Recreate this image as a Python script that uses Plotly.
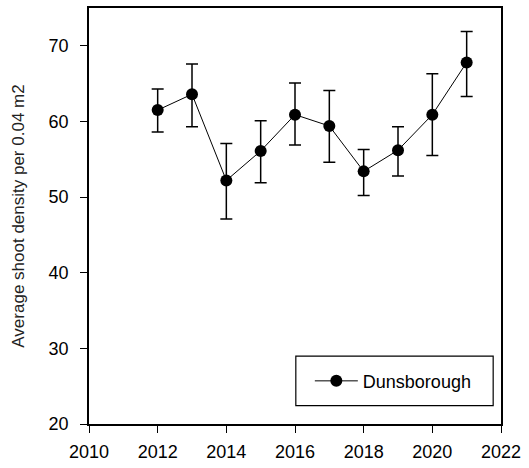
import plotly.graph_objects as go

years = [2012, 2013, 2014, 2015, 2016, 2017, 2018, 2019, 2020, 2021]
density = [61.5, 63.6, 52.2, 56.1, 60.9, 59.4, 53.4, 56.2, 60.9, 67.8]
err_plus = [2.8, 4.0, 4.9, 4.0, 4.2, 4.7, 2.9, 3.1, 5.4, 4.1]
err_minus = [2.9, 4.3, 5.1, 4.2, 4.0, 4.8, 3.2, 3.4, 5.4, 4.5]
series_name = "Dunsborough"
x_ticks = [2010, 2012, 2014, 2016, 2018, 2020, 2022]
y_ticks = [20, 30, 40, 50, 60, 70]

fig = go.Figure()
fig.add_trace(go.Scatter(
    x=years, y=density, name=series_name, mode="lines+markers",
    line=dict(color="black", width=1),
    marker=dict(symbol="circle", size=12, color="black"),
    error_y=dict(type="data", symmetric=False, array=err_plus, arrayminus=err_minus,
                 color="black", thickness=1.5, width=6),
))

fig.add_shape(type="rect", xref="paper", yref="paper",
              x0=0.502, x1=0.981, y0=0.044, y1=0.163,
              line=dict(color="black", width=1.2), fillcolor="white", layer="below")

axis_common = dict(showline=True, linecolor="black", linewidth=1.5, mirror=True,
                   ticks="outside", ticklen=7, tickwidth=1.2, tickcolor="black",
                   showgrid=False, zeroline=False,
                   tickfont=dict(family="Liberation Sans, Arial", size=18, color="black"))

fig.update_layout(
    width=529, height=468,
    margin=dict(l=89, r=28, t=6, b=44),
    plot_bgcolor="white", paper_bgcolor="white",
    showlegend=True,
    legend=dict(x=0.536, y=0.103, xanchor="left", yanchor="middle", itemwidth=43,
                bgcolor="rgba(0,0,0,0)", borderwidth=0,
                font=dict(family="Liberation Sans, Arial", size=18, color="black")),
    xaxis=dict(range=[2010, 2022], tickvals=x_ticks, ticklabelstandoff=4, **axis_common),
    yaxis=dict(range=[20, 75], tickvals=y_ticks, ticklabelstandoff=8,
               title=dict(text="Average shoot density per 0.04 m2", standoff=20,
                          font=dict(family="Liberation Sans, Arial", size=17, color="#222")),
               **axis_common),
)

fig.write_html("out.html")
